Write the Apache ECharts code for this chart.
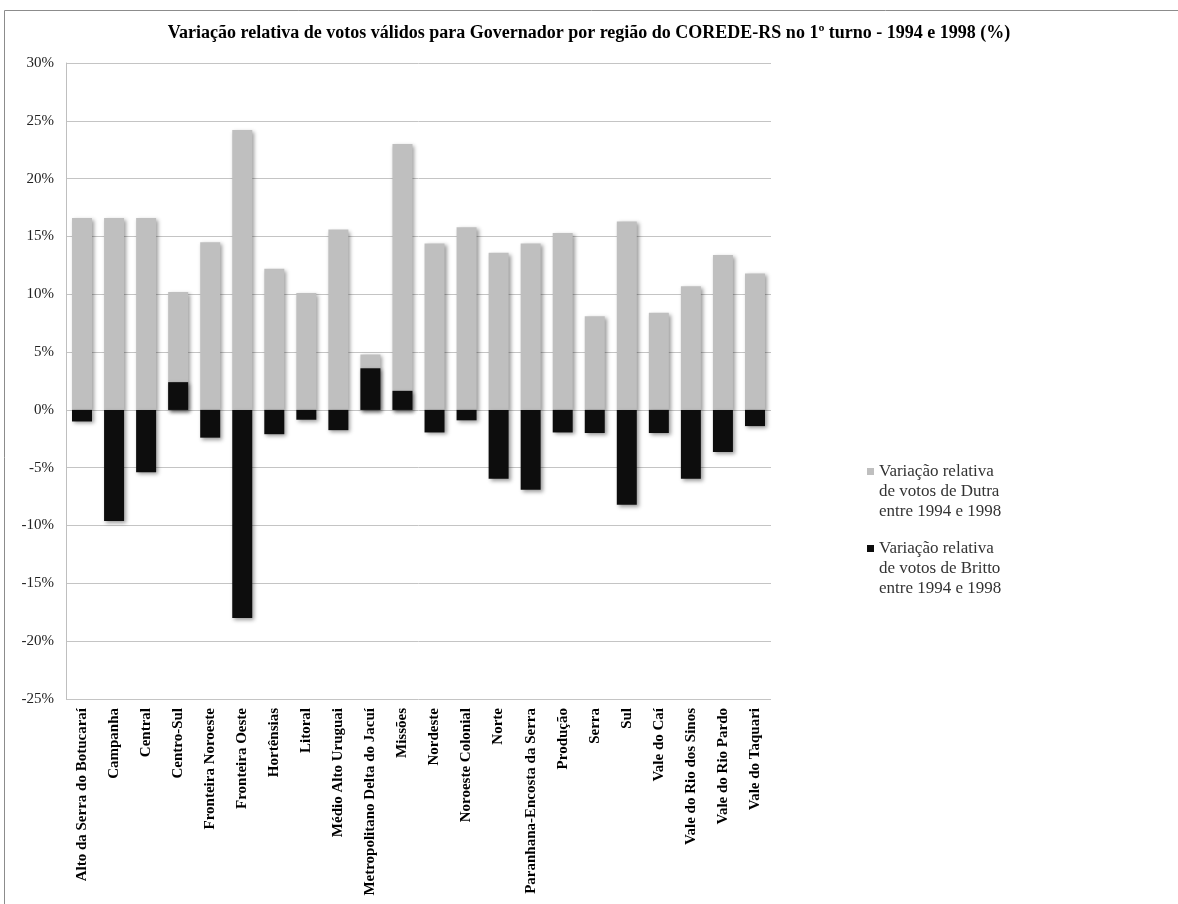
<!DOCTYPE html>
<html>
<head>
<meta charset="utf-8">
<title>Variação relativa de votos válidos - COREDE-RS</title>
<script src="https://cdn.jsdelivr.net/npm/echarts@6/dist/echarts.min.js"></script>
<style>
  html, body { margin: 0; padding: 0; background: #fff; }
  #chart { width: 1178px; height: 904px; }
</style>
</head>
<body>
<div id="chart"></div>
<script>
const regioes = ['Alto da Serra do Botucaraí', 'Campanha', 'Central', 'Centro-Sul', 'Fronteira Noroeste',
  'Fronteira Oeste', 'Hortênsias', 'Litoral', 'Médio Alto Uruguai', 'Metropolitano Delta do Jacuí',
  'Missões', 'Nordeste', 'Noroeste Colonial', 'Norte', 'Paranhana-Encosta da Serra', 'Produção',
  'Serra', 'Sul', 'Vale do Caí', 'Vale do Rio dos Sinos', 'Vale do Rio Pardo', 'Vale do Taquari']
// variação relativa (%) - Dutra
const dutra = [16.6, 16.6, 16.6, 10.2, 14.5, 24.2, 12.2, 10.1, 15.6, 4.8, 23.0,
  14.4, 15.8, 13.6, 14.4, 15.3, 8.1, 16.3, 8.4, 10.7, 13.4, 11.8]
// variação relativa (%) - Britto
const britto = [-1.0, -9.6, -5.4, 2.4, -2.4, -18.0, -2.1, -0.85, -1.75, 3.6, 1.65,
  -1.95, -0.9, -5.95, -6.9, -1.95, -2.0, -8.2, -2.0, -5.95, -3.65, -1.4]
const nomesSeries = ['Variação relativa\nde votos de Dutra\nentre 1994 e 1998',
  'Variação relativa\nde votos de Britto\nentre 1994 e 1998']

const serif = "'Liberation Serif', 'Times New Roman', serif"
const sombra = { shadowColor: 'rgba(0,0,0,0.4)', shadowBlur: 4, shadowOffsetX: 2, shadowOffsetY: 2 }

let myChart = echarts.init(document.getElementById('chart'))
myChart.setOption({
  animation: false,
  title: {
    text: 'Variação relativa de votos válidos para Governador por região do COREDE-RS no 1º turno - 1994 e 1998 (%)',
    left: 'center',
    top: 19,
    textStyle: { fontFamily: serif, fontSize: 18, fontWeight: 'bold', color: '#000' }
  },
  graphic: [{
    type: 'rect',
    shape: { x: 4.5, y: 10.5, width: 1200, height: 950 },
    style: { fill: 'none', stroke: '#8c8c8c', lineWidth: 1 },
    silent: true
  }],
  legend: {
    orient: 'vertical',
    left: 862,
    top: 457,
    itemGap: 17,
    itemWidth: 7,
    itemHeight: 60,
    icon: 'path://M0,6h7v7h-7z M0,0 M7,60',
    textStyle: { fontFamily: serif, fontSize: 17, lineHeight: 20, color: '#333' },
    data: nomesSeries
  },
  grid: { left: 66, right: 407, top: 63, bottom: 205, containLabel: false },
  xAxis: {
    type: 'category',
    data: regioes,
    axisLine: { show: false, onZero: false },
    axisTick: { show: false },
    axisLabel: {
      interval: 0, rotate: 90, margin: 9,
      fontFamily: serif, fontSize: 15, fontWeight: 'bold', color: '#000'
    }
  },
  yAxis: {
    type: 'value',
    min: -25, max: 30, interval: 5,
    axisLine: { show: true, lineStyle: { color: '#bfbfbf' } },
    axisTick: { show: false },
    splitLine: { lineStyle: { color: '#c4c4c4' } },
    axisLabel: {
      formatter: '{value}%', margin: 12,
      fontFamily: serif, fontSize: 15, color: '#222'
    }
  },
  series: [
    {
      name: nomesSeries[0],
      type: 'bar',
      data: dutra,
      barWidth: 20,
      barGap: '-100%',
      itemStyle: Object.assign({ color: '#bfbfbf' }, sombra)
    },
    {
      name: nomesSeries[1],
      type: 'bar',
      data: britto,
      barWidth: 20,
      barGap: '-100%',
      itemStyle: Object.assign({ color: '#0d0d0d' }, sombra)
    }
  ]
})
</script>
</body>
</html>
